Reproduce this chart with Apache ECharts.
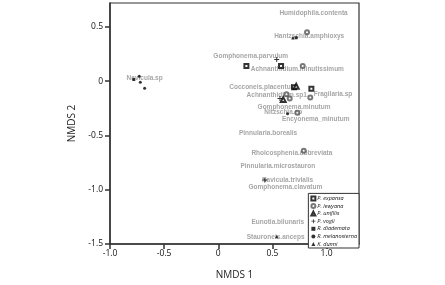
<!DOCTYPE html>
<html><head><meta charset="utf-8">
<script src="https://cdn.jsdelivr.net/npm/echarts@6/dist/echarts.min.js"></script>
<style>html,body{margin:0;padding:0;background:#fff}#c{width:445px;height:285px}</style>
</head><body><div id="c"></div>
<script>
// Species scores (NMDS1, NMDS2)
var speciesNames = ["Humidophila.contenta","Hantzschia.amphioxys","Gomphonema.parvulum","Achnanthidium.minutissimum","Navicula.sp","Cocconeis.placentula","Achnanthidium.sp1","Fragilaria.sp","Gomphonema.minutum","Nitzschia.sp","Encyonema_minutum","Pinnularia.borealis","Rhoicosphenia.abbreviata","Pinnularia.microstauron","Navicula.trivialis","Gomphonema.clavatum","Eunotia.bilunaris","Stauroneis.anceps"];
var speciesX = [0.88,0.84,0.30,0.73,-0.68,0.41,0.54,1.06,0.70,0.60,0.90,0.46,0.68,0.55,0.64,0.62,0.55,0.53];
var speciesY = [0.63,0.41,0.23,0.11,0.03,-0.06,-0.13,-0.12,-0.24,-0.29,-0.35,-0.48,-0.66,-0.78,-0.91,-0.98,-1.30,-1.44];

// Site scores per host species
var pExpansa = [[0.26,0.14],[0.58,0.14],[0.86,-0.07],[0.70,-0.055]];
var pLewyana = [[0.78,0.14],[0.82,0.45],[0.63,-0.12],[0.85,-0.15],[0.66,-0.16],[0.79,-0.64],[0.73,-0.29]];
var pUnifilis = [[0.72,-0.046],[0.60,-0.17]];
var pVogli = [[0.54,0.20],[0.57,-0.16],[0.43,-0.91]];
var rDiademata = [[-0.78,0.015],[0.72,0.40]];
var rMelanosterna = [[-0.73,0.046],[-0.72,-0.01],[-0.68,-0.065],[0.64,-0.30]];
var kDunni = [[0.54,-1.43],[0.69,0.40]];

var xTicks = [-1.0,-0.5,0,0.5,1.0];
var yTicks = [-1.5,-1.0,-0.5,0,0.5];
var xTickLabels = ["-1.0","-0.5","0","0.5","1.0"];
var yTickLabels = ["-1.5","-1.0","-0.5","0","0.5"];

var seriesNames = ["P. expansa","P. lewyana","P. unifilis","P. vogli","R. diademata","R. melanosterna","K. dunni"];
var plus = 'path://M4,0h2v4h4v2h-4v4h-2v-4h-4v-2h4z';

var chart = echarts.init(document.getElementById('c'));
var font = 'Open Sans, Liberation Sans, sans-serif';
function lab(vals, labels){return function(v){var i=vals.findIndex(function(t){return Math.abs(t-v)<1e-6});return i<0?'':labels[i];};}

var spData = speciesNames.map(function(n,i){return {name:n,value:[speciesX[i],speciesY[i]]};});

var option = {
  animation:false,
  grid:{left:110,right:86,top:3,bottom:37,show:true,borderColor:'#333',borderWidth:1.2,backgroundColor:'transparent'},
  xAxis:{type:'value',min:-1.0,max:1.3,interval:0.5,
    name:'NMDS 1',nameLocation:'middle',nameGap:26,nameTextStyle:{fontFamily:font,fontSize:10,color:'#222'},
    axisLine:{show:true,onZero:false,lineStyle:{color:'#333',width:1.5}},
    axisTick:{show:true,length:5,customValues:xTicks,lineStyle:{color:'#333',width:1.5}},
    axisLabel:{customValues:xTicks,formatter:lab(xTicks,xTickLabels),fontFamily:font,fontSize:8.5,color:'#111',margin:5},
    splitLine:{show:false}},
  yAxis:{type:'value',min:-1.5,max:0.72,interval:0.5,
    name:'NMDS 2',nameLocation:'middle',nameGap:30,nameRotate:90,nameTextStyle:{fontFamily:font,fontSize:10,color:'#222'},
    axisLine:{show:true,onZero:false,lineStyle:{color:'#333',width:1.5}},
    axisTick:{show:true,length:5,customValues:yTicks,lineStyle:{color:'#333',width:1.5}},
    axisLabel:{customValues:yTicks,formatter:lab(yTicks,yTickLabels),fontFamily:font,fontSize:8.5,color:'#111',margin:7},
    splitLine:{show:false}},
  legend:{orient:'vertical',right:86,bottom:37,data:seriesNames,itemWidth:4,itemHeight:4,itemGap:1.6,
    padding:[2,2,1,2],borderColor:'#333',borderWidth:1,backgroundColor:'#fff',
    textStyle:{fontFamily:font,fontSize:5.5,fontStyle:'italic',color:'#111',padding:[0,0,0,-3]}},
  series:[
    {type:'scatter',name:'species',data:spData,symbolSize:0,silent:true,z:1,
      label:{show:true,position:'inside',formatter:'{b}',fontFamily:'Liberation Sans, Arial, sans-serif',fontSize:6.5,fontWeight:'bold',color:'#8f8f8f'}},
    {type:'scatter',name:seriesNames[0],data:pExpansa,symbol:'emptyRect',symbolSize:4,itemStyle:{color:'#000',borderWidth:1},z:3},
    {type:'scatter',name:seriesNames[1],data:pLewyana,symbol:'emptyCircle',symbolSize:4,itemStyle:{color:'#555',borderWidth:0.8},z:3},
    {type:'scatter',name:seriesNames[2],data:pUnifilis,symbol:'emptyTriangle',symbolSize:5,itemStyle:{color:'#000',borderWidth:1},z:3},
    {type:'scatter',name:seriesNames[3],data:pVogli,symbol:plus,symbolSize:5,itemStyle:{color:'#000'},z:3},
    {type:'scatter',name:seriesNames[4],data:rDiademata,symbol:'rect',symbolSize:3,itemStyle:{color:'#000'},z:3},
    {type:'scatter',name:seriesNames[5],data:rMelanosterna,symbol:'circle',symbolSize:3,itemStyle:{color:'#000'},z:3},
    {type:'scatter',name:seriesNames[6],data:kDunni,symbol:'triangle',symbolSize:3.5,itemStyle:{color:'#000'},z:3}
  ]
};
chart.setOption(option);
</script></body></html>
